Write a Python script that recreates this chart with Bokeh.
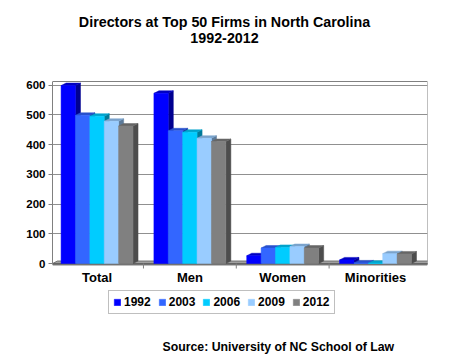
from bokeh.plotting import figure
from bokeh.models import Range1d, FixedTicker, Legend, LegendItem, Label
from bokeh.embed import file_html
from bokeh.resources import INLINE

categories = ["Total", "Men", "Women", "Minorities"]
years = ["1992", "2003", "2006", "2009", "2012"]
v1992 = [598, 572, 26, 12]
v2003 = [498, 446, 52, 2]
v2006 = [495, 441, 54, 1]
v2009 = [478, 421, 57, 33]
v2012 = [462, 410, 52, 32]
series = [v1992, v2003, v2006, v2009, v2012]
y_ticks = [0, 100, 200, 300, 400, 500, 600]

front_colors = ["#0000FF", "#3366FF", "#00CCFF", "#99CCFF", "#808080"]
side_colors = ["#000090", "#1A3399", "#007A99", "#5C7A99", "#4D4D4D"]
top_colors = ["#0000C0", "#2850CC", "#00A3CC", "#7AA3CC", "#666666"]

FONT = "Liberation Sans"
W, H = 450, 356
FL, FR = 52, 427
ZERO_PX = 263.0          # pixel row of value 0
PX = (263.0 - 84.5) / 600  # pixels per unit
Y_START = -(H - ZERO_PX) / PX
Y_END = ZERO_PX / PX
WALL_TOP = (ZERO_PX - 81) / PX
XL, XR = -0.48, 3.56

p = figure(width=W, height=H, output_backend="svg", toolbar_location=None,
           x_range=Range1d(XL, XR), y_range=Range1d(Y_START, Y_END),
           x_axis_location=None,
           min_border_left=FL, min_border_right=W - FR,
           min_border_top=0, min_border_bottom=0)
p.title.visible = False
p.background_fill_color = "white"
p.border_fill_color = "white"
p.outline_line_color = None

bw = 0.155
dx = 0.054
dy = 8.5

# back wall frame lines
p.line([XL, XR, XR], [WALL_TOP, WALL_TOP, 0], line_color="#808080", line_width=1)

# floor
p.patch([XL, XR, XR + dx, XL + dx], [0, 0, dy, dy],
        fill_color="#A0A0A0", line_color="#606060", line_width=0.8)
p.quad(left=[XL], right=[XR], bottom=[-1.5 / PX], top=[0],
       fill_color="#808080", line_color="#606060", line_width=0.8)
# category separator ticks under the floor
sep = [k + 0.5 for k in range(len(categories) - 1)]
p.segment(x0=sep, x1=sep, y0=[0] * len(sep), y1=[-5 / PX] * len(sep),
          line_color="#808080", line_width=1)

renderers = []
for i, vals in enumerate(series):
    off = (i - 2) * bw
    xc = [k + off for k in range(len(categories))]
    x0 = [x - bw / 2 for x in xc]
    x1 = [x + bw / 2 for x in xc]
    sx = [[a, a + dx, a + dx, a] for a in x1]
    sy = [[0, dy, v + dy, v] for v in vals]
    tx = [[a, b, b + dx, a + dx] for a, b in zip(x0, x1)]
    ty = [[v, v, v + dy, v + dy] for v in vals]
    p.patches(sx, sy, fill_color=side_colors[i], line_color=side_colors[i], line_width=0.5)
    p.patches(tx, ty, fill_color=top_colors[i], line_color=top_colors[i], line_width=0.5)
    r = p.vbar(x=xc, width=bw, bottom=0, top=vals, fill_color=front_colors[i],
               line_color=front_colors[i], line_width=0.5)
    renderers.append(r)

# y axis
p.yaxis.ticker = FixedTicker(ticks=y_ticks)
p.yaxis.bounds = (0, WALL_TOP)
p.yaxis.axis_line_color = "#808080"
p.yaxis.major_tick_line_color = "#808080"
p.yaxis.major_tick_out = 4
p.yaxis.major_tick_in = 0
p.yaxis.minor_tick_line_color = None
p.yaxis.major_label_text_font = FONT
p.yaxis.major_label_text_font_style = "bold"
p.yaxis.major_label_text_font_size = "11.5px"
p.yaxis.major_label_text_color = "black"
p.yaxis.major_label_standoff = 3

p.xgrid.grid_line_color = None
p.ygrid.ticker = FixedTicker(ticks=y_ticks)
p.ygrid.grid_line_color = "#909090"
p.ygrid.grid_line_width = 1

# category labels
p.text(x=list(range(len(categories))), y=[-(277 - ZERO_PX) / PX] * len(categories),
       text=categories, text_align="center", text_baseline="middle",
       text_font={"value": FONT}, text_font_style="bold", text_font_size="13px",
       text_color="black")

legend = Legend(items=[LegendItem(label=y, renderers=[r]) for y, r in zip(years, renderers)],
                orientation="horizontal", location=(108 - FL, H - 314),
                border_line_color="#808080", border_line_width=1,
                background_fill_color="white", background_fill_alpha=1,
                padding=4, spacing=7, margin=0,
                glyph_width=8, glyph_height=8, label_standoff=3, label_height=12,
                label_text_font=FONT, label_text_font_style="bold",
                label_text_font_size="12px", label_text_color="black")
p.add_layout(legend, "center")

cx = 224 - FL
for txt, ypx in [("Directors at Top 50 Firms in North Carolina", 21), ("1992-2012", 37)]:
    p.add_layout(Label(x=cx, y=H - ypx, x_units="screen", y_units="screen", text=txt,
                       text_align="center", text_baseline="middle", text_font=FONT,
                       text_font_style="bold", text_font_size="14.3px", text_color="black"))
p.add_layout(Label(x=162 - FL, y=H - 346, x_units="screen", y_units="screen",
                   text="Source: University of NC School of Law",
                   text_align="left", text_baseline="middle", text_font=FONT,
                   text_font_style="bold", text_font_size="12.3px", text_color="black"))

open("out.html", "w").write(file_html(p, INLINE))
